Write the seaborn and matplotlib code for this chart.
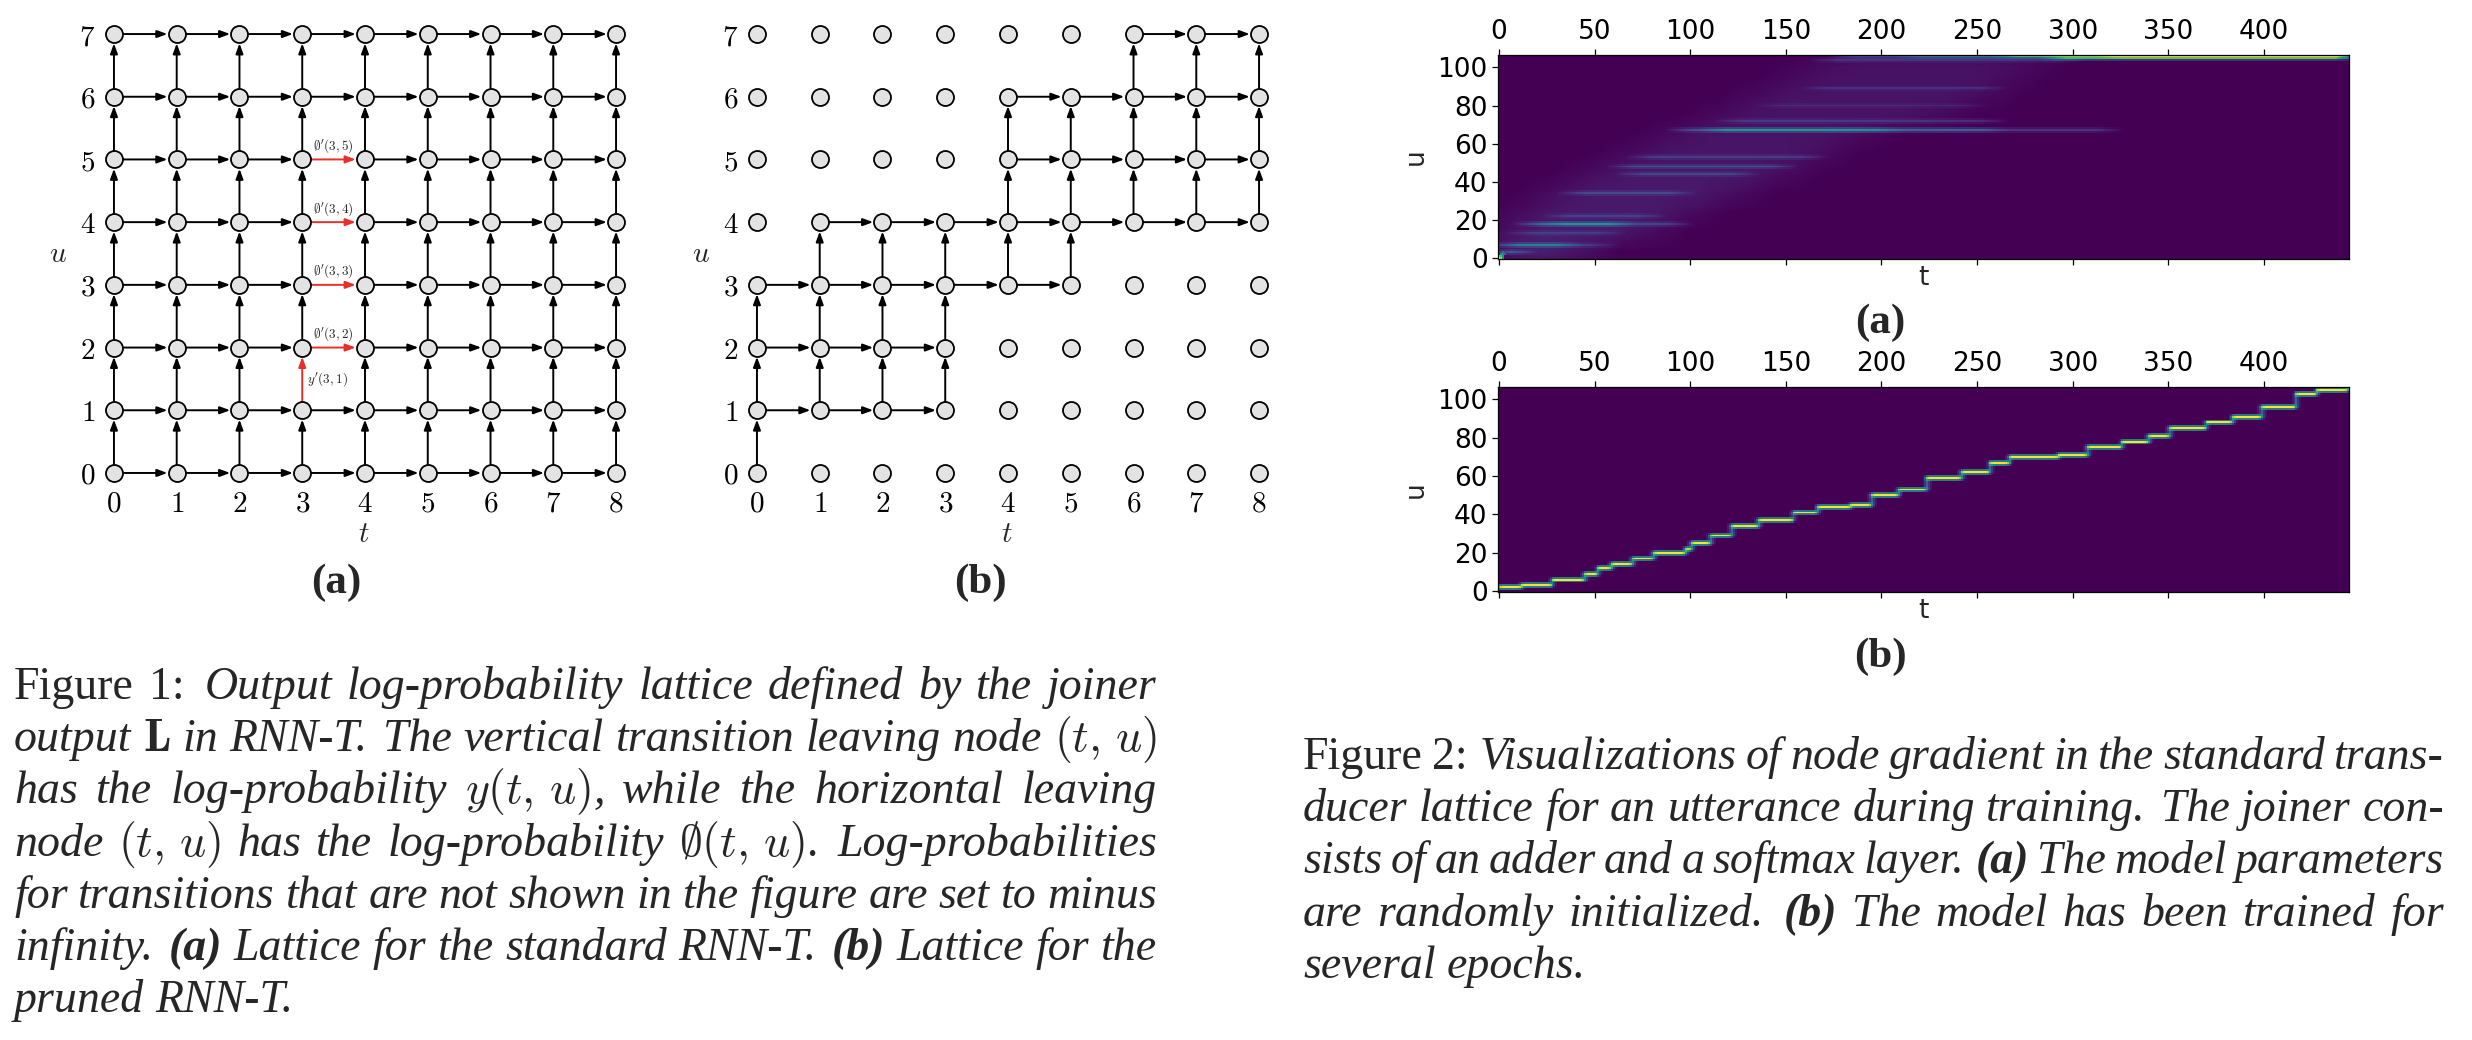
import numpy as np
import pandas as pd
import matplotlib
matplotlib.use("Agg")
import matplotlib.pyplot as plt
import seaborn as sns

W, H = 2472, 1040

# ---- lattice data (Figure 1) ----
T_NODES = list(range(9))
U_NODES = list(range(8))
# pruned lattice: lowest kept u for every t, window of 4 nodes
PRUNE_START = [0, 1, 1, 1, 3, 3, 4, 4, 4]
PRUNE_WIDTH = 4
RED_VERTICAL = [(3, 1)]
RED_HORIZONTAL = [(3, 2), (3, 3), (3, 4), (3, 5)]

# ---- gradient heatmaps (Figure 2) ----
N_T, N_U = 445, 107
X_TICKS = [0, 50, 100, 150, 200, 250, 300, 350, 400]
Y_TICKS = [0, 20, 40, 60, 80, 100]

# (a) random init: faint wedge of haze (u0, u1, t0, t1, value)
GRAD_A_HAZE = [
    (0, 10, 0, 45, 0.1), (10, 20, 5, 80, 0.075), (20, 30, 15, 100, 0.065),
    (30, 40, 30, 125, 0.065), (40, 50, 50, 150, 0.06), (50, 60, 70, 170, 0.055),
    (60, 70, 90, 190, 0.05), (70, 80, 115, 230, 0.05), (80, 90, 135, 255, 0.05),
    (90, 100, 155, 270, 0.045), (100, 107, 170, 285, 0.04),
]
# (a) horizontal streaks (u, t0, t1, value)
GRAD_A_STREAKS = [
    (106, 180, 215, 0.22), (106, 215, 265, 0.45), (106, 265, 320, 0.72),
    (106, 320, 450, 0.95), (105, 290, 450, 0.45), (104, 170, 300, 0.12),
    (67, 95, 112, 0.22), (67, 112, 205, 0.48), (67, 205, 260, 0.32),
    (67, 260, 320, 0.15), (72, 120, 260, 0.12), (89, 165, 260, 0.09),
    (80, 140, 250, 0.07), (53, 74, 166, 0.13), (48, 64, 150, 0.22),
    (44, 68, 130, 0.15), (34, 38, 97, 0.17), (22, 30, 82, 0.13),
    (18, 15, 28, 0.28), (18, 28, 65, 0.45), (18, 65, 95, 0.17),
    (13, 10, 60, 0.11), (7, 3, 38, 0.35), (7, 38, 55, 0.12),
    (3, 0, 14, 0.25),
]
# (a) bright cells at the origin (u, t, value)
GRAD_A_ORIGIN = [(0, 0, 1.0), (0, 1, 0.85), (1, 0, 0.8), (1, 1, 0.7), (0, 2, 0.55),
                 (2, 1, 0.5), (1, 2, 0.5), (2, 2, 0.45), (3, 2, 0.35), (2, 3, 0.35)]
# (b) trained: alignment path
PATH_T = [0, 12, 28, 45, 52, 59, 70, 81, 98, 101, 111, 122, 136, 154, 167, 184, 195,
          209, 224, 242, 257, 267, 293, 308, 326, 340, 351, 370, 384, 399, 417, 428, 444]
PATH_U = [2, 3, 6, 9, 12, 14, 17, 20, 22, 25, 29, 34, 37, 41, 44, 45, 50,
          53, 59, 62, 67, 70, 71, 75, 78, 81, 85, 88, 91, 96, 103, 105, 106]

CAPTION1 = [
    "Figure 1: Output log-probability lattice defined by the joiner",
    r"output $\mathbf{L}$ in RNN-T. The vertical transition leaving node $(t,\,u)$",
    r"has the log-probability $y(t,\,u)$, while the horizontal leaving",
    r"node $(t,\,u)$ has the log-probability $\emptyset(t,\,u)$. Log-probabilities",
    "for transitions that are not shown in the figure are set to minus",
    "infinity. (a) Lattice for the standard RNN-T. (b) Lattice for the",
    "pruned RNN-T.",
]
CAPTION2 = [
    "Figure 2: Visualizations of node gradient in the standard trans-",
    "ducer lattice for an utterance during training. The joiner con-",
    "sists of an adder and a softmax layer. (a) The model parameters",
    "are randomly initialized. (b) The model has been trained for",
    "several epochs.",
]

sns.set_theme(style="ticks", rc={"axes.edgecolor": "black", "xtick.color": "black",
                                 "ytick.color": "black"})
plt.rcParams["mathtext.fontset"] = "cm"
plt.rcParams["font.family"] = ["DejaVu Sans"]

fig = plt.figure(figsize=(W / 100, H / 100), dpi=100)


def box(l, t, r, b):
    return [l / W, 1 - b / H, (r - l) / W, (b - t) / H]


def arrow(ax, p0, p1, color):
    ax.annotate("", xy=p1, xytext=p0,
                arrowprops=dict(arrowstyle="-|>,head_length=0.6,head_width=0.22",
                                color=color, lw=1.4, shrinkA=6.4, shrinkB=6.7,
                                mutation_scale=10), zorder=2)


def draw_lattice(ax, keep, red=False):
    tt, uu = np.meshgrid(T_NODES, U_NODES)
    nodes = pd.DataFrame({"t": tt.ravel(), "u": uu.ravel()})
    sns.scatterplot(data=nodes, x="t", y="u", s=150, color="#e3e3e3",
                    edgecolor="black", linewidth=1.3, zorder=3, legend=False, ax=ax)
    for t in T_NODES:
        for u in U_NODES:
            if not keep(t, u):
                continue
            if t + 1 in T_NODES and keep(t + 1, u):
                c = "#e8302a" if red and (t, u) in RED_HORIZONTAL else "black"
                arrow(ax, (t, u), (t + 1, u), c)
            if u + 1 in U_NODES and keep(t, u + 1):
                c = "#e8302a" if red and (t, u) in RED_VERTICAL else "black"
                arrow(ax, (t, u), (t, u + 1), c)
    if red:
        for t, u in RED_HORIZONTAL:
            ax.text(t + 0.5, u + 0.07, r"$\emptyset'(%d,%d)$" % (t, u), fontsize=9.5,
                    ha="center", va="bottom", zorder=4)
        for t, u in RED_VERTICAL:
            ax.text(t + 0.08, u + 0.5, r"$y'(%d,%d)$" % (t, u), fontsize=9.5,
                    ha="left", va="center", zorder=4)
    ax.set_xlim(-0.2, 8.2)
    ax.set_ylim(-0.2, 7.2)
    ax.set_xticks(T_NODES, ["$%d$" % t for t in T_NODES])
    ax.set_yticks(U_NODES, ["$%d$" % u for u in U_NODES])
    ax.tick_params(length=0, labelsize=21)
    ax.tick_params(axis="x", pad=3)
    ax.tick_params(axis="y", pad=4.5)
    sns.despine(ax=ax, left=True, bottom=True)
    ax.set_xlabel("$t$", fontsize=21)
    ax.set_ylabel("$u$", fontsize=21, rotation=0, ha="center", va="center")
    ax.xaxis.set_label_coords(0.498, -0.075)
    ax.yaxis.set_label_coords(-0.082, 0.5)


ax1 = fig.add_axes(box(101.4, 21.5, 628.6, 485.5))
draw_lattice(ax1, lambda t, u: True, red=True)
ax2 = fig.add_axes(box(744.4, 21.5, 1271.6, 485.5))
draw_lattice(ax2, lambda t, u: PRUNE_START[t] <= u < PRUNE_START[t] + PRUNE_WIDTH)


def conv(a, k, axis):
    k = np.asarray(k, float)
    return np.apply_along_axis(lambda r: np.convolve(r, k, mode="same"), axis, a)


haze = np.zeros((N_U, N_T))
for u0, u1, t0, t1, v in GRAD_A_HAZE:
    haze[u0:u1, t0:t1] = v
haze = conv(conv(haze, np.ones(13) / 13, 0), np.ones(41) / 41, 1)
streaks = np.zeros((N_U, N_T))
for u, t0, t1, v in GRAD_A_STREAKS:
    streaks[u, t0:t1] = np.maximum(streaks[u, t0:t1], v)
streaks = conv(conv(streaks, np.ones(15) / 15, 1), [0.3, 1, 0.3], 0)
grad_a = haze + streaks
for u, t, v in GRAD_A_ORIGIN:
    grad_a[u, t] = max(grad_a[u, t], v)
grad_a = np.clip(grad_a, 0, 1)

grad_b = np.zeros((N_U, N_T))
for i in range(len(PATH_T) - 1):
    grad_b[PATH_U[i], PATH_T[i]:PATH_T[i + 1]] = 1.0
    col = grad_b[PATH_U[i]:PATH_U[i + 1] + 1, PATH_T[i + 1]]
    grad_b[PATH_U[i]:PATH_U[i + 1] + 1, PATH_T[i + 1]] = np.maximum(col, 0.4)
grad_b[PATH_U[-1], PATH_T[-1]] = 1.0
grad_b = conv(conv(grad_b, [0.4, 1, 0.4], 0), [0.15, 0.4, 1, 0.4, 0.15], 1)
grad_b = grad_b / grad_b.max()


def draw_grad(ax, grid):
    sns.heatmap(grid, ax=ax, cmap="viridis", vmin=0, vmax=1, cbar=False,
                xticklabels=False, yticklabels=False, rasterized=True)
    ax.set_xlim(0, N_T)
    ax.set_ylim(0, N_U)
    ax.set_xticks([t + 0.5 for t in X_TICKS], [str(t) for t in X_TICKS])
    ax.set_yticks([u + 0.5 for u in Y_TICKS], [str(u) for u in Y_TICKS], rotation=0)
    ax.tick_params(axis="x", top=True, bottom=True, labeltop=True, labelbottom=False)
    ax.tick_params(labelsize=19, length=4.5, width=0.9, pad=3)
    for s in ax.spines.values():
        s.set_visible(True)
        s.set_linewidth(0.9)
    ax.set_xlabel("t", fontsize=19, va="top")
    ax.set_ylabel("u", fontsize=19)
    ax.xaxis.set_label_coords(0.5, -0.03)
    ax.yaxis.set_label_coords(-0.081, 0.5)


ax3 = fig.add_axes(box(1498, 55, 2349, 259))
draw_grad(ax3, grad_a)
ax4 = fig.add_axes(box(1498, 387, 2349, 592))
draw_grad(ax4, grad_b)

sub = dict(family="Liberation Serif", fontsize=31, weight="bold", ha="center", va="center")
fig.text(336 / W, 1 - 583 / H, "(a)", **sub)
fig.text(980 / W, 1 - 583 / H, "(b)", **sub)
fig.text(1880 / W, 1 - 323 / H, "(a)", **sub)
fig.text(1880 / W, 1 - 657 / H, "(b)", **sub)

LINE_STEP = 52.2
CAP_SIZE = 33


def draw_caption(lines, x0, x1, y0):
    renderer = fig.canvas.get_renderer()
    for k, line in enumerate(lines):
        y = 1 - (y0 + k * LINE_STEP) / H
        words = line.split(" ")
        texts = []
        for w in words:
            props = dict(family="Liberation Serif", fontsize=CAP_SIZE, style="italic")
            if w in ("Figure", "1:", "2:"):
                props["style"] = "normal"
            if w in ("(a)", "(b)"):
                props["weight"] = "bold"
            texts.append(fig.text(0, y, w, ha="left", va="baseline", **props))
        widths = [t.get_window_extent(renderer).width for t in texts]
        weights = [1.35 if w.endswith((".", ":")) else 1.0 for w in words[:-1]]
        if k == len(lines) - 1:
            gap = 0.25 * CAP_SIZE * 100 / 72
        else:
            gap = (x1 - x0 - sum(widths)) / sum(weights)
        x = x0
        for i, t in enumerate(texts):
            t.set_x(x / W)
            if i < len(weights):
                x += widths[i] + gap * weights[i]


draw_caption(CAPTION1, 14, 1157, 699)
draw_caption(CAPTION2, 1303, 2444, 769)

fig.savefig("out.png", dpi=100, facecolor="white")
